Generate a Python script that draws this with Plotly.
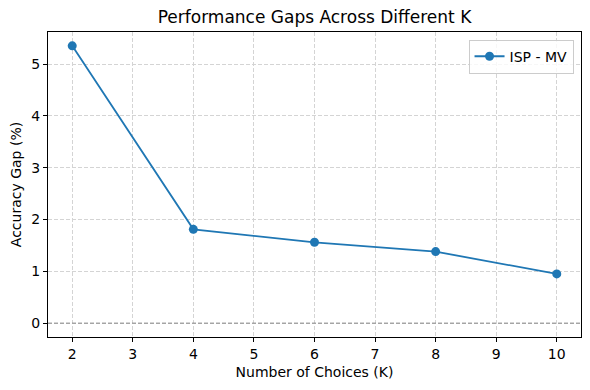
import plotly.graph_objects as go

k_values = [2, 4, 6, 8, 10]
gaps = [5.35, 1.81, 1.56, 1.38, 0.95]
series_name = "ISP - MV"
x_ticks = [2, 3, 4, 5, 6, 7, 8, 9, 10]
y_ticks = [0, 1, 2, 3, 4, 5]

fig = go.Figure()
fig.add_trace(go.Scatter(
    x=k_values, y=gaps, mode="lines+markers", name=series_name,
    line=dict(color="#1f77b4", width=1.8),
    marker=dict(color="#1f77b4", size=9),
))
fig.add_shape(type="line", xref="paper", x0=0, x1=1, yref="y", y0=0, y1=0,
              line=dict(color="rgba(128,128,128,0.9)", width=1, dash="4px,2px"), layer="above")

font = "DejaVu Sans"
W, H = 574, 374
grid = dict(showgrid=True, gridcolor="#d4d4d4", griddash="4px,2px", gridwidth=1)
fig.update_layout(
    width=W, height=H,
    margin=dict(l=40, r=1, t=24, b=45, autoexpand=False),
    paper_bgcolor="white", plot_bgcolor="white",
    font=dict(family=font, color="black", size=14),
    title=dict(text="Performance Gaps Across Different K", x=0.5, xref="paper",
               y=1 - 9 / H, yref="container", xanchor="center", yanchor="middle",
               font=dict(size=17, family=font)),
    showlegend=True,
    legend=dict(x=0.986, y=0.975, xanchor="right", yanchor="top", itemwidth=30,
                bordercolor="#cccccc", borderwidth=1, bgcolor="rgba(255,255,255,0.8)",
                font=dict(size=14, family=font)),
    xaxis=dict(range=[1.6, 10.4], tickvals=x_ticks, ticks="outside", ticklen=4,
               tickcolor="black", showline=True, linecolor="black", linewidth=1, mirror=True,
               zeroline=False, tickfont=dict(size=14), automargin=False,
               title=dict(text="Number of Choices (K)", font=dict(size=14), standoff=6), **grid),
    yaxis=dict(range=[-0.2675, 5.6175], tickvals=y_ticks, ticks="outside", ticklen=4,
               tickcolor="black", showline=True, linecolor="black", linewidth=1, mirror=True,
               zeroline=False, tickfont=dict(size=14), automargin=False,
               title=dict(text="Accuracy Gap (%)", font=dict(size=14), standoff=10), **grid),
)
fig.write_html("out.html")
